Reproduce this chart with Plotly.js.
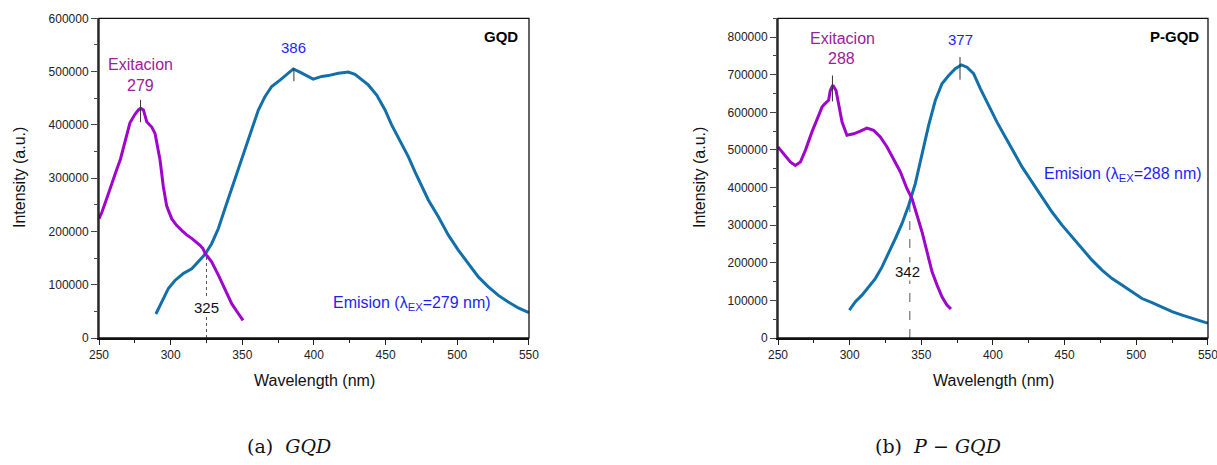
<!DOCTYPE html>
<html>
<head>
<meta charset="utf-8">
<script src="https://cdn.plot.ly/plotly-3.0.1.min.js"></script>
<style>html,body{margin:0;padding:0;background:#fff;}#chart{width:1217px;height:465px;}</style>
</head>
<body>
<div id="chart"></div>
<script>
// ---------- GQD (a) ----------
const gqdExcWl  = [250, 252, 255.4, 258.8, 262.3, 265, 268.1, 271.6, 275.1, 277.5, 279.1, 281, 283.3, 286.8, 289.1, 290.8, 292.6, 294.9, 297.2, 300.7, 304, 307.7, 311, 314.7, 318, 320.5, 322.5, 324, 326, 328.6, 333.3, 337.9, 342.6, 347.2, 350.5];
const gqdExcInt = [224000, 236000, 262000, 290000, 316000, 336000, 366000, 404000, 420000, 428000, 431000, 428000, 406000, 396000, 384000, 362000, 334000, 284000, 248000, 224000, 212000, 202000, 194000, 187000, 180000, 174000, 168000, 159000, 152000, 143000, 118000, 93000, 64500, 46000, 33000];
const gqdEmWl  = [289.7, 293.7, 298.4, 303, 308.8, 314.7, 319.3, 324, 328.6, 333.3, 337.9, 342.6, 347.2, 351.9, 356.5, 361.2, 365.8, 370.5, 376.3, 381, 385.6, 390.2, 394.9, 399.5, 405.4, 410, 417, 424, 428.6, 433.3, 437.9, 443.8, 449.6, 454.2, 460, 465.9, 470.5, 475.2, 479.8, 486.8, 493.8, 500.7, 507.7, 514.7, 521.7, 528.7, 535.6, 542.6, 550];
const gqdEmInt = [45000, 68000, 93000, 108000, 121000, 130000, 143000, 157000, 177000, 205500, 243000, 281000, 318000, 356000, 393500, 428000, 453000, 472000, 484000, 494000, 505000, 499000, 492000, 486000, 491000, 492500, 497000, 499000, 495000, 484000, 475000, 456000, 428000, 400000, 371500, 340000, 312000, 284000, 259000, 227500, 193000, 165000, 140000, 114700, 96000, 80000, 67700, 56400, 47500];

// ---------- P-GQD (b) ----------
const pgqdExcWl  = [250, 254, 258.6, 262.1, 265.6, 269.1, 273.7, 278.4, 280.7, 282.5, 285.3, 286.5, 288.3, 290.5, 292.3, 294.7, 298.1, 302.8, 307.5, 312, 316.8, 321.4, 326.1, 330.7, 335.4, 340, 343.5, 347, 350.5, 354, 357.5, 361, 364.4, 367.9, 370.7];
const pgqdExcInt = [508000, 490000, 468000, 459000, 468000, 499000, 548000, 592000, 614000, 622000, 632000, 658000, 672000, 658000, 619000, 574000, 539000, 543000, 550000, 558000, 552000, 534500, 508000, 477000, 441600, 397000, 371000, 326500, 282000, 229000, 176000, 140700, 109700, 87600, 77000];
const pgqdEmWl  = [299.8, 304, 308.6, 313.3, 317.9, 322.6, 327.2, 331.9, 336.5, 341.2, 345.8, 350.5, 355.1, 359.8, 364.4, 369.1, 373.7, 377.9, 381.9, 386.5, 391.2, 397, 402.8, 408.6, 414.5, 420.3, 427.2, 434.2, 441.2, 448.2, 455.2, 462.1, 469.1, 476.1, 483.1, 490, 497, 504, 511, 518, 525, 532, 539, 548, 550];
const pgqdEmInt = [74000, 96500, 114000, 136000, 158000, 189000, 225000, 264600, 304000, 353000, 410600, 486000, 565500, 632000, 676000, 698000, 716000, 726000, 720000, 703000, 663000, 618600, 574000, 534500, 494700, 455000, 415000, 375000, 335000, 300000, 269000, 238000, 207000, 180500, 158000, 140700, 123000, 105000, 93800, 81400, 70000, 61000, 52000, 41600, 40000];

// ---------- markers ----------
const peakWl   = [279, 386, 288, 377];
const peakLo   = [405000, 482000, 629000, 687000];
const peakHi   = [447000, 506000, 698000, 747000];
const peakAxis = ['', '', '2', '2'];
const crossWl  = [325, 342];
const crossInt = [157000, 380000];
const crossAxis = ['', '2'];
const crossDash = ['dot', 'dash'];

const xTickVals = [250, 300, 350, 400, 450, 500, 550];
const yTicksA = [0, 100000, 200000, 300000, 400000, 500000, 600000];
const yTicksB = [0, 100000, 200000, 300000, 400000, 500000, 600000, 700000, 800000];

const excColor = '#A005CC';
const emColor  = '#1170AA';
const purpleTxt = '#9A2299';
const blueTxt  = '#1F1FF5';
const FONT = 'Liberation Sans, Arial, sans-serif';

const traces = [
  {x: gqdEmWl, y: gqdEmInt, xaxis: 'x', yaxis: 'y', mode: 'lines', line: {color: emColor, width: 3}},
  {x: gqdExcWl, y: gqdExcInt, xaxis: 'x', yaxis: 'y', mode: 'lines', line: {color: excColor, width: 3}},
  {x: pgqdEmWl, y: pgqdEmInt, xaxis: 'x2', yaxis: 'y2', mode: 'lines', line: {color: emColor, width: 3}},
  {x: pgqdExcWl, y: pgqdExcInt, xaxis: 'x2', yaxis: 'y2', mode: 'lines', line: {color: excColor, width: 3}}
];

function xAxis(domain, anchor) {
  return {
    domain: domain, anchor: anchor, range: [250, 550.05], tickvals: xTickVals,
    ticktext: xTickVals.map(String), ticklabeloverflow: 'allow',
    ticks: 'outside', ticklen: 5, tickwidth: 1, tickcolor: '#222',
    minor: {dtick: 25, tick0: 250, ticks: 'outside', ticklen: 3, tickcolor: '#222', showgrid: false},
    showline: true, linecolor: '#111', linewidth: 2, mirror: false,
    showgrid: false, zeroline: false, automargin: false,
    tickfont: {family: FONT, size: 12, color: '#222'}
  };
}
function yAxis(range, ticks, anchor) {
  return {
    domain: [0.2731, 0.9606], anchor: anchor, range: range, tickvals: ticks,
    ticktext: ticks.map(String), ticklabeloverflow: 'allow',
    ticks: 'outside', ticklen: 6, tickwidth: 1, tickcolor: '#444',
    minor: {dtick: 50000, tick0: 0, ticks: 'outside', ticklen: 3, tickcolor: '#444', showgrid: false},
    showline: true, linecolor: '#555', linewidth: 2, mirror: false,
    showgrid: false, zeroline: false, automargin: false,
    tickfont: {family: FONT, size: 12, color: '#222'}
  };
}

const shapes = [];
// frames
['', '2'].forEach(s => {
  shapes.push({type: 'rect', xref: 'x' + s + ' domain', yref: 'y' + s + ' domain', x0: 0, x1: 1, y0: 0, y1: 1,
    line: {color: '#111', width: 1.3}, layer: 'above'});
});
peakWl.forEach((w, i) => {
  shapes.push({type: 'line', xref: 'x' + peakAxis[i], yref: 'y' + peakAxis[i], x0: w, x1: w, y0: peakLo[i], y1: peakHi[i],
    line: {color: '#333', width: 1}});
});
crossWl.forEach((w, i) => {
  shapes.push({type: 'line', xref: 'x' + crossAxis[i], yref: 'y' + crossAxis[i], x0: w, x1: w, y0: 0, y1: crossInt[i],
    line: {color: '#555', width: 1, dash: crossDash[i]}, layer: 'below'});
});

function txt(text, x, y, ax, color, size, extra) {
  return Object.assign({text: text, x: x, y: y, xref: 'x' + ax, yref: 'y' + ax, showarrow: false,
    xanchor: 'center', yanchor: 'middle',
    font: {family: FONT, size: size, color: color}}, extra || {});
}
function ptxt(text, px, py, size, family, extra) {
  return Object.assign({text: text, x: px / 1217, y: 1 - py / 465, xref: 'paper', yref: 'paper', showarrow: false,
    xanchor: 'center', yanchor: 'middle',
    font: {family: family || FONT, size: size, color: '#111'}}, extra || {});
}
const SERIF = 'DejaVu Serif, Liberation Serif, serif';
const annotations = [
  txt('Exitacion', 279.3, 512600, '', purpleTxt, 16),
  txt(String(peakWl[0]), 279.3, 474000, '', purpleTxt, 16),
  txt(String(peakWl[1]), 385.4, 545000, '', blueTxt, 15),
  txt('Emision (λ<sub>EX</sub>=279 nm)', 468.7, 65000, '', blueTxt, 16),
  txt('<b>GQD</b>', 544, 565000, '', '#000', 15, {xanchor: 'right'}),
  txt(String(crossWl[0]), 325, 57000, '', '#111', 15, {bgcolor: '#fff', borderpad: 0}),

  txt('Exitacion', 294.7, 797000, '2', purpleTxt, 16),
  txt(String(peakWl[2]), 294, 743000, '2', purpleTxt, 16),
  txt(String(peakWl[3]), 377.2, 793000, '2', blueTxt, 15),
  txt('Emision (λ<sub>EX</sub>=288 nm)', 491, 435000, '2', blueTxt, 16),
  txt('<b>P-GQD</b>', 545, 802700, '2', '#000', 15, {xanchor: 'right'}),
  txt(String(crossWl[1]), 340.5, 178000, '2', '#111', 15, {bgcolor: '#fff', borderpad: 0}),

  // axis titles
  ptxt('Wavelength (nm)', 314, 380, 16),
  ptxt('Wavelength (nm)', 993, 380, 16),
  ptxt('Intensity (a.u.)', 19, 178, 16, FONT, {textangle: -90}),
  ptxt('Intensity (a.u.)', 699, 178, 16, FONT, {textangle: -90}),
  // captions
  ptxt('(a)  <i>GQD</i>', 289, 446, 19, SERIF),
  ptxt('(b)  <i>P</i> − <i>GQD</i>', 938, 446, 19, SERIF)
];

const layout = {
  width: 1217, height: 465,
  margin: {l: 0, r: 0, t: 0, b: 0},
  paper_bgcolor: '#fff', plot_bgcolor: '#fff',
  showlegend: false,
  xaxis: xAxis([99 / 1217, 529 / 1217], 'y'),
  yaxis: yAxis([0, 600000], yTicksA, 'x'),
  xaxis2: xAxis([778 / 1217, 1208 / 1217], 'y2'),
  yaxis2: yAxis([0, 850000], yTicksB, 'x2'),
  shapes: shapes,
  annotations: annotations
};

Plotly.newPlot('chart', traces, layout, {staticPlot: true, displayModeBar: false});
</script>
</body>
</html>
